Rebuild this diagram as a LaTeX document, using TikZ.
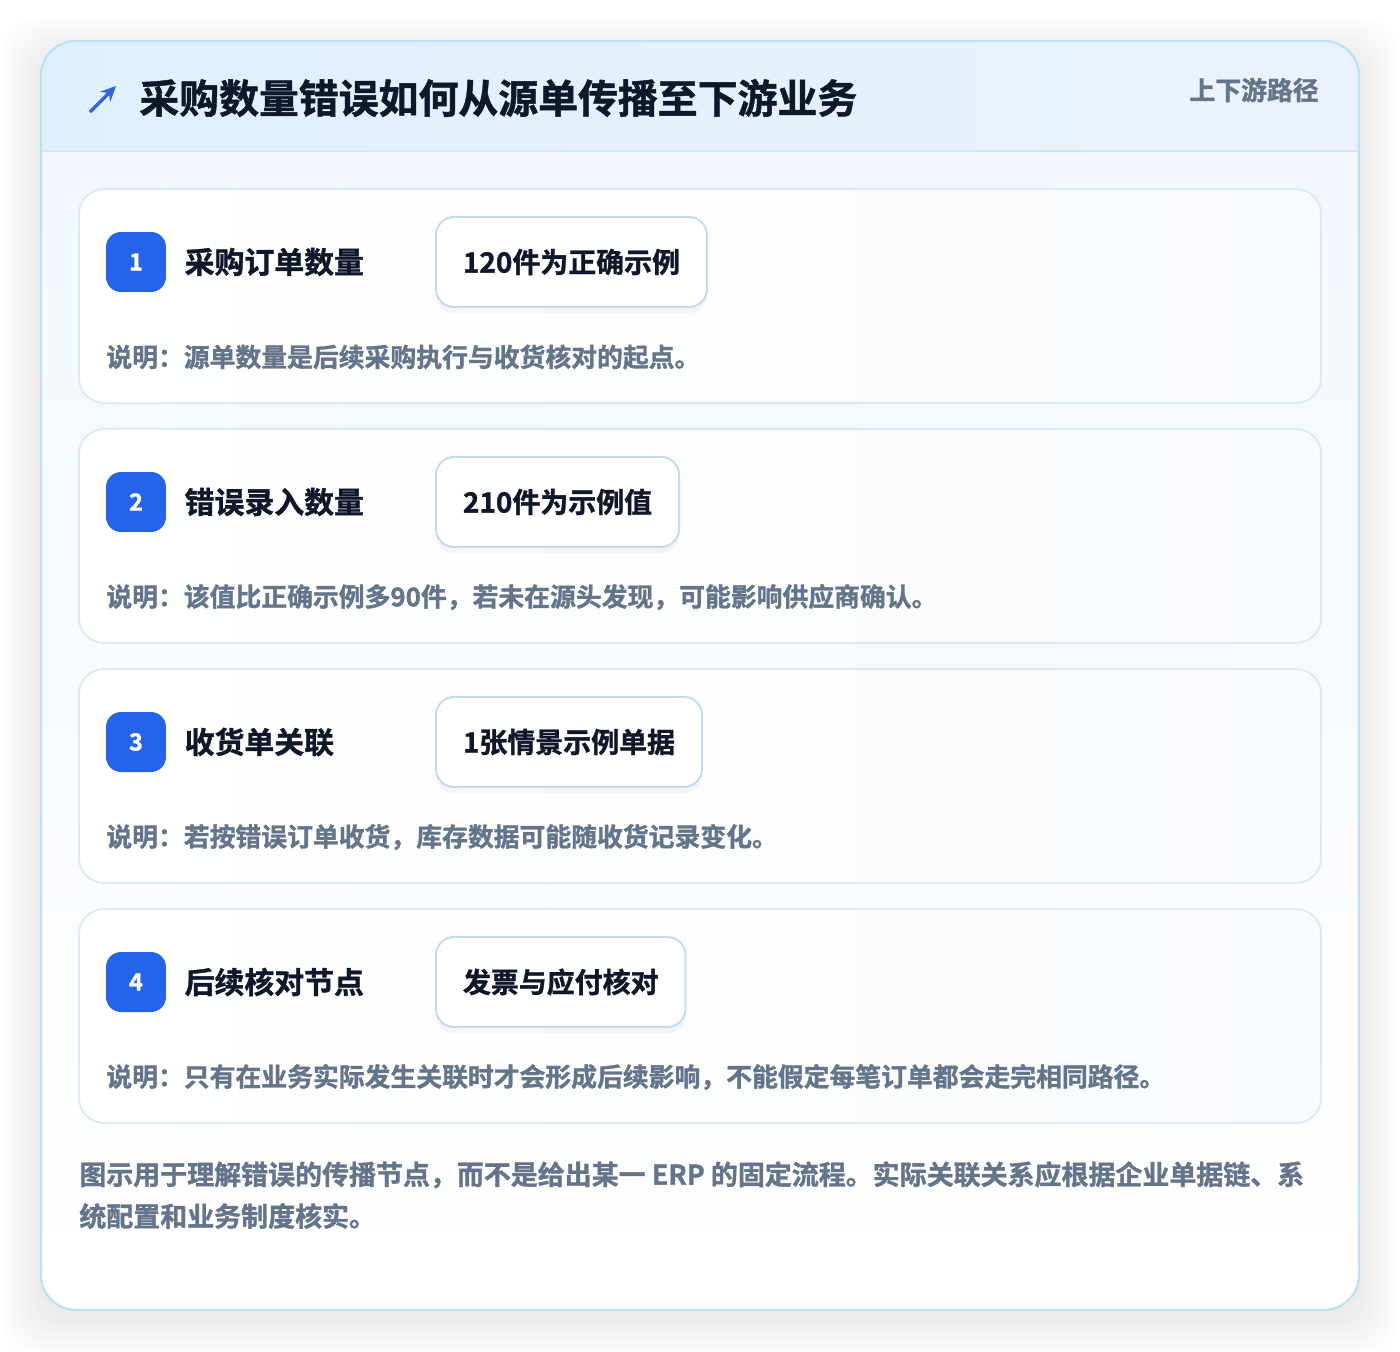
\documentclass[tikz,border=0pt]{standalone}
\usepackage{fontspec}
\setmainfont{Noto Sans CJK SC}[BoldFont={Noto Sans CJK SC Bold}, BoldFeatures={FakeBold=1.2}]
\usetikzlibrary{positioning, arrows.meta, shadows}
\usepackage{xcolor}

\definecolor{titleink}{HTML}{0F172A}
\definecolor{noteink}{HTML}{64748B}
\definecolor{badgeblue}{HTML}{2563EB}
\definecolor{arrowblue}{HTML}{2F66E0}
\definecolor{cardline}{HTML}{DCEAF8}
\definecolor{outerline}{HTML}{BDE1F5}
\definecolor{headleft}{HTML}{DFF0FD}
\definecolor{headright}{HTML}{EBF2FD}
\definecolor{headrule}{HTML}{D3E7F8}
\definecolor{bodytop}{HTML}{F2F8FE}
\definecolor{cardright}{HTML}{F8FBFE}
\definecolor{valline}{HTML}{C3DAF5}

\tikzset{
    badge/.style={fill=badgeblue, rounded corners=0.3cm, minimum size=1.2cm, inner sep=0pt,
        text=white, font=\bfseries\fontsize{13.5}{15}\selectfont},
    steplabel/.style={right=0.36cm of #1, inner sep=0pt, text=titleink,
        font=\bfseries\fontsize{17}{20}\selectfont},
    valbox/.style={draw=valline, line width=1.1pt, fill=white, rounded corners=0.36cm,
        minimum height=1.8cm, inner xsep=0.54cm, anchor=west, text=titleink,
        font=\bfseries\fontsize{15.9}{18}\selectfont,
        drop shadow={opacity=0.07, shadow xshift=0cm, shadow yshift=-0.12cm}},
    note/.style={anchor=west, inner sep=0pt, text=noteink,
        font=\bfseries\fontsize{14.7}{17}\selectfont},
    cardbox/.style={draw=cardline, line width=1.1pt, left color=white, right color=cardright,
        rounded corners=0.5cm},
}

\begin{document}
\begin{tikzpicture}[x=0.02cm, y=-0.02cm]
        \useasboundingbox[fill=white] (0,0) rectangle (1400,1352);

        % Outer card with soft shadow
        \foreach \s in {2,6,...,38}
            \fill[black, opacity=0.009, rounded corners=0.7cm]
                (41-\s,41-\s+14) rectangle (1359+\s,1310+\s+8);
        \begin{scope}
            \clip[rounded corners=0.7cm] (41,41) rectangle (1359,1310);
            \shade[top color=bodytop, bottom color=white] (41,151) rectangle (1359,1310);
            \shade[left color=headleft, right color=headright] (41,41) rectangle (1359,151);
            \draw[headrule, line width=1.1pt] (41,151) -- (1359,151);
        \end{scope}
        \draw[outerline, line width=1.3pt, rounded corners=0.7cm] (41,41) rectangle (1359,1310);

        % Header
        \coordinate (arrtail) at (90,112);
        \coordinate (arrtip) at (116,86);
        \draw[arrowblue, line width=2pt, -{Stealth[length=0.3cm, width=0.28cm]}] (arrtail) -- (arrtip);
        \node (title) [anchor=west, inner sep=0pt, text=titleink,
            font=\bfseries\fontsize{22.7}{26}\selectfont] at (139,98) {采购数量错误如何从源单传播至下游业务};
        \node (tag) [anchor=east, inner sep=0pt, text=noteink,
            font=\bfseries\fontsize{14.7}{17}\selectfont] at (1319,90) {上下游路径};

        % Cards
        \draw[cardbox] (79,189) rectangle (1321,403);
        \draw[cardbox] (79,429) rectangle (1321,643);
        \draw[cardbox] (79,669) rectangle (1321,883);
        \draw[cardbox] (79,909) rectangle (1321,1123);

        % Step 1
        \node (b1) [badge] at (136,262) {1};
        \node (l1) [steplabel=b1] {采购订单数量};
        \node (v1) [valbox] at (435,262) {120件为正确示例};
        \node (n1) [note] at (106,357) {说明：源单数量是后续采购执行与收货核对的起点。};

        % Step 2
        \node (b2) [badge] at (136,502) {2};
        \node (l2) [steplabel=b2] {错误录入数量};
        \node (v2) [valbox] at (435,502) {210件为示例值};
        \node (n2) [note] at (106,597) {说明：该值比正确示例多90件，若未在源头发现，可能影响供应商确认。};

        % Step 3
        \node (b3) [badge] at (136,742) {3};
        \node (l3) [steplabel=b3] {收货单关联};
        \node (v3) [valbox] at (435,742) {1张情景示例单据};
        \node (n3) [note] at (106,837) {说明：若按错误订单收货，库存数据可能随收货记录变化。};

        % Step 4
        \node (b4) [badge] at (136,982) {4};
        \node (l4) [steplabel=b4] {后续核对节点};
        \node (v4) [valbox] at (435,982) {发票与应付核对};
        \node (n4) [note] at (106,1077) {说明：只有在业务实际发生关联时才会形成后续影响，不能假定每笔订单都会走完相同路径。};

        % Footer
        \node (foot) [anchor=north west, inner sep=0pt, align=left, text=noteink,
            font=\bfseries\fontsize{15.35}{23.8}\selectfont] at (79,1161)
            {图示用于理解错误的传播节点，而不是给出某一 ERP 的固定流程。实际关联关系应根据企业单据链、系\\
             统配置和业务制度核实。};

    \end{tikzpicture}
\end{document}
